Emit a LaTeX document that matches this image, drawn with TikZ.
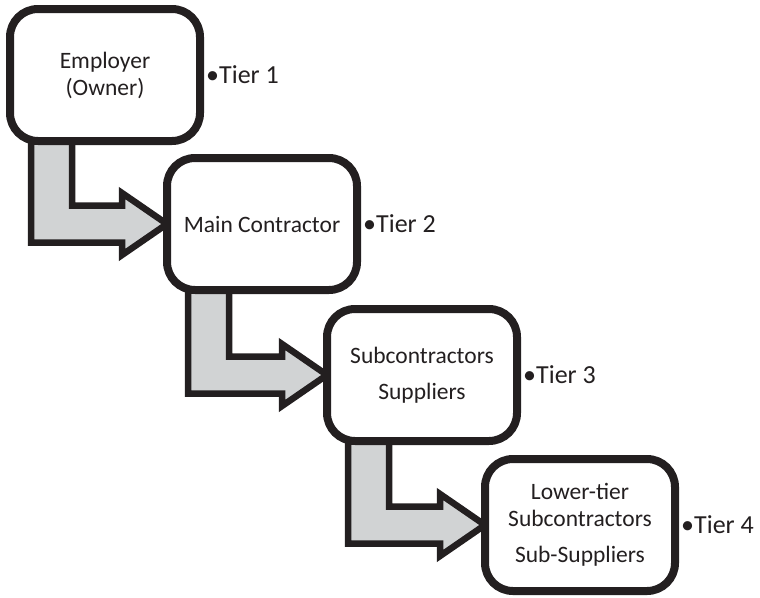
\documentclass[tikz,border=0pt]{standalone}
\usepackage{fontspec}
\setmainfont{Carlito}
\usetikzlibrary{calc}
\definecolor{arrgray}{HTML}{D1D3D4}
\definecolor{ink}{HTML}{231F20}
\tikzset{
  tierbox/.style={draw=ink, line width=8pt, fill=white, rounded corners=28pt,
    minimum width=190pt, minimum height=132pt, outer sep=0pt, inner sep=0pt,
    align=center, font=\fontsize{23.5}{27}\selectfont, text=ink},
  tierlabel/.style={anchor=west, inner sep=0pt, font=\fontsize{26}{28}\selectfont, text=ink},
  bendarrow/.style={draw=ink, line width=6.5pt, fill=arrgray, miter limit=10}
}
\begin{document}
\begin{tikzpicture}[x=1pt, y=-1pt]
\useasboundingbox (0,0) rectangle (760,597);
% box positions
\path (105,75) node[tierbox, draw=none, fill=none, text opacity=0] (b1) {Employer\\(Owner)};
\path (262,224) node[tierbox, draw=none, fill=none, text opacity=0] (b2) {Main Contractor};
\path (422,375) node[tierbox, draw=none, fill=none, text opacity=0] (b3) {Subcontractors\\[9pt]Suppliers};
\path (580,525) node[tierbox, draw=none, fill=none, text opacity=0] (b4) {Lower-tier\\Subcontractors\\[9pt]Sub-Suppliers};
% arrows
\foreach \a/\b in {b1/b2, b2/b3, b3/b4}{
  \draw[bendarrow] let \p1=(\a.south west), \p2=(\b.west) in
    (\x1+21pt,\y1) -- (\x1+21pt,\y2-18.5pt) -- (\x2-45pt,\y2-18.5pt)
    -- (\x2-45pt,\y2-31pt) -- (\x2,\y2) -- (\x2-45pt,\y2+31pt)
    -- (\x2-45pt,\y2+18.5pt) -- (\x1+62pt,\y2+18.5pt) -- (\x1+62pt,\y1) -- cycle;
}
% boxes drawn on top
\node[tierbox] at (b1) {Employer\\(Owner)};
\node[tierbox] at (b2) {Main Contractor};
\node[tierbox] at (b3) {Subcontractors\\[9pt]Suppliers};
\node[tierbox] at (b4) {Lower-tier\\Subcontractors\\[9pt]Sub-Suppliers};
% tier labels
\node[tierlabel] (t1) at ([xshift=6pt]b1.east) {•Tier 1};
\node[tierlabel] (t2) at ([xshift=6pt]b2.east) {•Tier 2};
\node[tierlabel] (t3) at ([xshift=6pt]b3.east) {•Tier 3};
\node[tierlabel] (t4) at ([xshift=6pt]b4.east) {•Tier 4};
\end{tikzpicture}
\end{document}
